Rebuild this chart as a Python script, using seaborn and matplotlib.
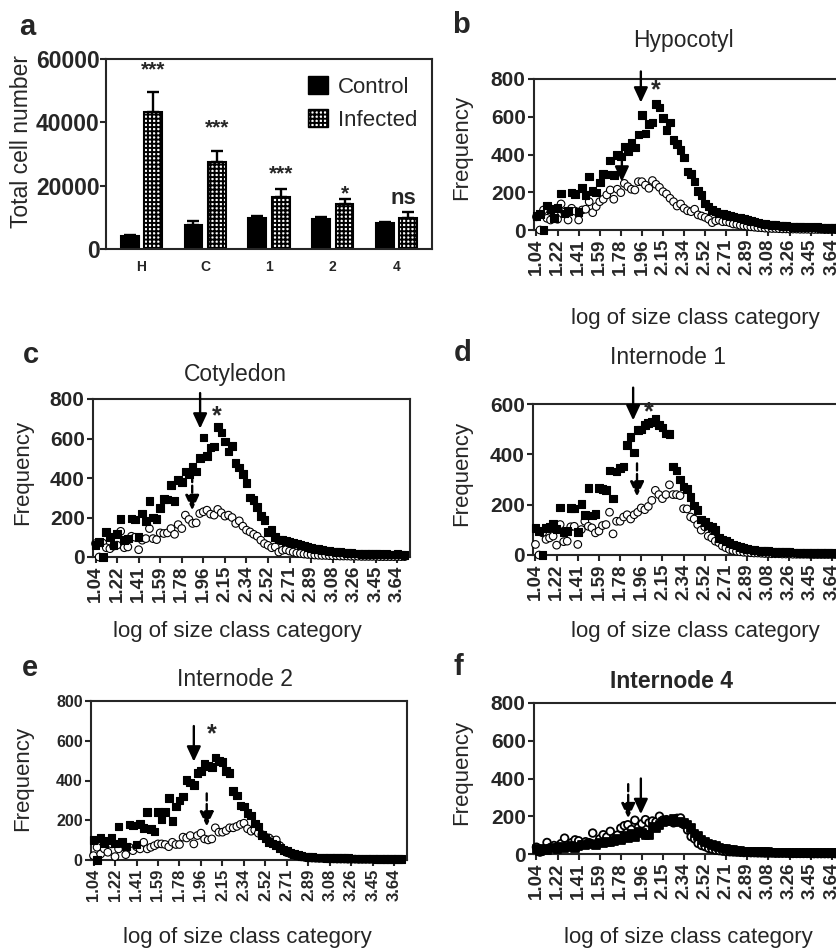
import numpy as np
import pandas as pd
import seaborn as sns
from matplotlib import pyplot as plt
from matplotlib.patches import Patch

W, H = 837, 950

# ---- panel a: total cell number ----
tissues = ["H", "C", "1", "2", "4"]
control_cells = [4200, 7600, 9800, 9600, 8100]
control_err = [300, 1100, 500, 600, 400]
infected_cells = [43200, 27600, 16400, 14200, 9800]
infected_err = [6300, 3300, 2500, 1700, 1900]
signif = ["***", "***", "***", "*", "ns"]
signif_y = [56500, 38400, 23700, 17400, 16100]

# ---- panels b-f: size class distributions ----
size_ticks = ["1.04", "1.22", "1.41", "1.59", "1.78", "1.96", "2.15", "2.34",
              "2.52", "2.71", "2.89", "3.08", "3.26", "3.45", "3.64"]

hyp_infected = [75, 85, 0, 130, 110, 62, 115, 194, 88, 100,
                198, 190, 95, 221, 185, 283, 208, 198, 251, 297,
                293, 368, 292, 396, 389, 442, 420, 463, 438, 507,
                610, 512, 562, 569, 668, 650, 592, 530, 569, 477,
                456, 424, 385, 309, 297, 256, 208, 185, 141, 124,
                106, 97, 88, 88, 80, 74, 72, 67, 62, 57,
                52, 48, 44, 39, 35, 32, 30, 27, 25, 24,
                22, 20, 18, 17, 16, 15, 15, 14, 17, 13,
                15, 12, 14, 11, 13, 12, 10]
hyp_control = [70, 0, 106, 62, 53, 85, 57, 138, 95, 53,
               115, 100, 53, 106, 110, 150, 92, 124, 150, 163,
               186, 212, 163, 216, 198, 247, 230, 216, 212, 256,
               256, 238, 221, 262, 242, 226, 203, 191, 168, 150,
               127, 138, 115, 102, 97, 110, 80, 74, 67, 57,
               39, 49, 53, 44, 44, 39, 32, 30, 25, 22,
               20, 17, 15, 13, 12, 10, 9, 8, 8, 7,
               6, 6, 5, 5, 5, 4, 4, 4, 3, 3,
               3, 3, 2, 2, 2, 2, 2]

cot_infected = [60, 76, 0, 127, 102, 59, 115, 192, 85, 93,
                195, 190, 102, 220, 183, 283, 200, 193, 249, 295,
                292, 364, 283, 390, 381, 432, 420, 458, 432, 500,
                605, 512, 554, 559, 658, 631, 585, 534, 563, 475,
                454, 420, 376, 302, 288, 254, 207, 186, 127, 136,
                102, 88, 85, 80, 76, 71, 68, 62, 59, 52,
                45, 42, 40, 36, 32, 30, 28, 26, 24, 22,
                20, 19, 18, 17, 16, 15, 15, 14, 18, 14,
                13, 15, 12, 13, 16, 12, 11]
cot_control = [68, 0, 71, 47, 42, 55, 60, 130, 47, 51,
               105, 100, 37, 85, 93, 144, 93, 88, 122, 119,
               122, 144, 115, 164, 144, 212, 190, 170, 173, 220,
               229, 237, 217, 212, 241, 224, 207, 212, 200, 170,
               183, 156, 136, 127, 115, 105, 85, 68, 59, 47,
               51, 25, 34, 37, 30, 25, 20, 18, 15, 13,
               12, 10, 9, 8, 8, 7, 6, 6, 5, 5,
               5, 4, 4, 4, 3, 3, 3, 3, 3, 2,
               2, 2, 2, 2, 2, 2, 2]

int1_infected = [108, 95, 0, 108, 112, 125, 104, 189, 91, 95,
                 187, 184, 91, 203, 160, 266, 157, 164, 266, 263,
                 259, 336, 224, 332, 345, 351, 437, 470, 408, 496,
                 499, 516, 525, 529, 542, 516, 507, 483, 480, 351,
                 336, 300, 272, 262, 230, 196, 180, 141, 130, 117,
                 112, 99, 68, 62, 55, 48, 42, 38, 32, 28,
                 25, 22, 20, 18, 17, 16, 15, 14, 13, 12,
                 12, 11, 11, 10, 10, 9, 9, 8, 10, 8,
                 9, 7, 8, 7, 8, 6, 7]
int1_control = [42, 0, 88, 62, 68, 75, 39, 121, 53, 55,
                112, 114, 42, 101, 134, 114, 108, 88, 95, 117,
                121, 170, 84, 134, 134, 151, 160, 143, 160, 170,
                187, 180, 193, 217, 257, 240, 224, 240, 279, 240,
                240, 236, 184, 183, 151, 143, 121, 99, 112, 75,
                68, 55, 49, 36, 29, 22, 18, 15, 13, 11,
                10, 9, 8, 8, 7, 6, 6, 5, 5, 5,
                4, 4, 4, 3, 3, 3, 3, 3, 2, 2,
                2, 2, 2, 2, 2, 2, 2]

int2_infected = [101, 0, 111, 84, 98, 111, 84, 169, 90, 67,
                 179, 174, 78, 182, 162, 241, 157, 143, 241, 207,
                 241, 313, 195, 270, 300, 320, 404, 389, 376, 438,
                 448, 482, 473, 468, 516, 499, 494, 448, 438, 347,
                 325, 275, 270, 235, 224, 184, 168, 126, 110, 92,
                 84, 75, 59, 50, 45, 37, 30, 25, 20, 17,
                 15, 14, 13, 12, 12, 11, 11, 10, 10, 9,
                 9, 9, 8, 8, 8, 7, 7, 7, 7, 6,
                 6, 6, 6, 5, 5, 5, 5]
int2_control = [22, 64, 30, 56, 39, 81, 17, 56, 81, 27,
                64, 47, 67, 56, 89, 56, 64, 72, 81, 81,
                78, 67, 89, 78, 78, 115, 111, 123, 81, 123,
                135, 106, 101, 106, 162, 140, 140, 148, 162, 162,
                169, 179, 185, 157, 145, 151, 135, 128, 115, 111,
                98, 101, 72, 50, 37, 30, 24, 20, 16, 13,
                11, 10, 9, 8, 8, 7, 6, 6, 5, 5,
                5, 4, 4, 4, 3, 3, 3, 3, 3, 2,
                2, 2, 2, 2, 2, 2, 2]

int4_infected = [25, 15, 30, 20, 30, 35, 25, 40, 30, 35,
                 45, 30, 40, 50, 45, 55, 50, 45, 60, 55,
                 65, 60, 70, 80, 75, 95, 85, 105, 90, 118,
                 110, 100, 100, 146, 137, 155, 168, 176, 173, 186,
                 166, 173, 164, 157, 137, 109, 95, 75, 65, 55,
                 48, 42, 35, 30, 25, 22, 20, 17, 15, 14,
                 13, 12, 11, 10, 10, 9, 9, 8, 8, 8,
                 7, 7, 7, 6, 6, 6, 6, 5, 5, 5,
                 5, 5, 4, 4, 4, 4, 4]
int4_control = [36, 10, 25, 61, 35, 45, 40, 55, 84, 40,
                60, 75, 70, 50, 65, 60, 111, 55, 80, 102,
                90, 120, 85, 100, 137, 150, 155, 130, 179, 140,
                160, 182, 165, 175, 170, 200, 180, 182, 175, 165,
                189, 191, 155, 127, 92, 80, 56, 45, 39, 30,
                25, 20, 18, 15, 13, 12, 11, 10, 9, 8,
                8, 7, 7, 6, 6, 5, 5, 5, 4, 4,
                4, 4, 3, 3, 3, 3, 3, 3, 2, 2,
                2, 2, 2, 2, 2, 2, 2]


def px_box(left, top, right, bottom):
    return [left / W, 1 - bottom / H, (right - left) / W, (bottom - top) / H]


def ftext(x, y, s, **kw):
    fig.text(x / W, 1 - y / H, s, ha="center", va="center", **kw)


sns.set_style("ticks")
plt.rcParams["font.family"] = ["Liberation Sans", "DejaVu Sans"]
plt.rcParams["axes.linewidth"] = 1.5
plt.rcParams["hatch.linewidth"] = 1.4

fig = plt.figure(figsize=(W / 100, H / 100), dpi=100)

# ---------------- panel a ----------------
ax = fig.add_axes(px_box(106, 59, 432, 249))
bars = pd.DataFrame({
    "tissue": tissues * 2,
    "cells": control_cells + infected_cells,
    "group": ["Control"] * 5 + ["Infected"] * 5,
})
sns.barplot(data=bars, x="tissue", y="cells", hue="group",
            palette={"Control": "black", "Infected": "white"},
            width=0.74, gap=0.25, edgecolor="black", linewidth=1.5,
            errorbar=None, legend=False, ax=ax)
patches = list(ax.patches)
for p in patches[5:]:
    p.set_hatch("++++")
xs = [p.get_x() + p.get_width() / 2 for p in patches]
errs = control_err + infected_err
tops = control_cells + infected_cells
ax.errorbar(xs, tops, yerr=[[0] * 10, errs], fmt="none", ecolor="black",
            elinewidth=1.7, capsize=4, capthick=1.7, zorder=1)
for i, s in enumerate(signif):
    big = s == "ns"
    ax.text(xs[5 + i] - (0.08 if big else 0), signif_y[i], s, ha="center", va="center",
            fontsize=16 if big else 15, fontweight="bold")
ax.set_ylim(0, 60000)
ax.set_yticks([0, 20000, 40000, 60000])
ax.set(xlabel="", ylabel="")
ax.tick_params(axis="y", labelsize=16.5, width=1.5, length=4, pad=0.5)
ax.tick_params(axis="x", labelsize=10, length=0, pad=8)
for lab in ax.get_xticklabels() + ax.get_yticklabels():
    lab.set_fontweight("bold")
handles = [Patch(facecolor="black", edgecolor="black", label="Control"),
           Patch(facecolor="white", edgecolor="black", hatch="++++", label="Infected")]
ax.legend(handles=handles, loc="upper left", bbox_to_anchor=(0.585, 0.97),
          frameon=False, fontsize=16, handlelength=0.9, handleheight=0.9,
          handletextpad=0.45, labelspacing=0.5, borderpad=0)
ftext(22, 141, "Total cell number", fontsize=16.5, rotation=90)
ftext(27, 27, "a", fontsize=21, fontweight="bold")

# ---------------- panels b-f ----------------
panels = [
    dict(box=(534, 79, 844, 230), ymax=800, inf=hyp_infected, ctl=hyp_control,
         title="Hypocotyl", tpos=(683, 40), tbold=False, letter="b", lpos=(461, 25),
         ypos=(462, 147), xpos=(695, 318), ticksize=13.5, ytsize=15,
         solid=(29.7, 840, 675), dashed=(24.3, 415, 256), dash_solid=True,
         star=(34, 740)),
    dict(box=(93, 399, 410, 557), ymax=800, inf=cot_infected, ctl=cot_control,
         title="Cotyledon", tpos=(235, 375), tbold=False, letter="c", lpos=(31, 355),
         ypos=(23, 472), xpos=(237, 632), ticksize=13.5, ytsize=15,
         solid=(29.1, 830, 650), dashed=(26.9, 415, 237), dash_solid=False,
         star=(33.7, 712)),
    dict(box=(533, 404, 844, 555), ymax=600, inf=int1_infected, ctl=int1_control,
         title="Internode 1", tpos=(668, 358), tbold=False, letter="d", lpos=(463, 353),
         ypos=(462, 473), xpos=(695, 632), ticksize=13.5, ytsize=15,
         solid=(27.7, 665, 535), dashed=(28.8, 364, 232), dash_solid=False,
         star=(32, 568)),
    dict(box=(91, 701, 407, 860), ymax=800, inf=int2_infected, ctl=int2_control,
         title="Internode 2", tpos=(235, 680), tbold=False, letter="e", lpos=(30, 668),
         ypos=(23, 778), xpos=(247, 937), ticksize=12, ytsize=11.5,
         solid=(28, 674, 495), dashed=(31.6, 335, 168), dash_solid=False,
         star=(33, 634)),
    dict(box=(534, 703, 844, 854), ymax=800, inf=int4_infected, ctl=int4_control,
         title="Internode 4", tpos=(672, 682), tbold=True, letter="f", lpos=(458, 667),
         ypos=(462, 772), xpos=(688, 938), ticksize=13.5, ytsize=15,
         solid=(29.7, 400, 211), dashed=(26.1, 370, 189), dash_solid=False,
         star=None),
]

for cfg in panels:
    ax = fig.add_axes(px_box(*cfg["box"]))
    n = len(cfg["inf"])
    pos = np.arange(n)
    # circles first so the filled squares sit on top, as in the original
    df = pd.DataFrame({
        "size_class": np.concatenate([pos, pos]),
        "frequency": cfg["ctl"] + cfg["inf"],
        "group": ["Control"] * n + ["Infected"] * n,
    })
    lw = 1.3 if cfg["letter"] == "f" else 0.8
    sns.scatterplot(data=df, x="size_class", y="frequency", hue="group", style="group",
                    markers={"Infected": "s", "Control": "o"},
                    palette={"Infected": "black", "Control": "white"},
                    edgecolor="black", linewidth=lw, s=30, legend=False,
                    clip_on=False, zorder=3, ax=ax)
    ax.set_xlim(-0.7, 87.5)
    ax.set_ylim(0, cfg["ymax"])
    ax.set_yticks(np.arange(0, cfg["ymax"] + 1, 200))
    ax.set_xticks(np.arange(0, 6 * len(size_ticks), 6))
    ax.set_xticklabels(size_ticks, rotation=90)
    ax.set(xlabel="", ylabel="")
    ax.tick_params(axis="x", labelsize=cfg["ticksize"], width=1.5, length=4, pad=2)
    ax.tick_params(axis="y", labelsize=cfg["ytsize"], width=1.5, length=4, pad=2)
    for lab in ax.get_xticklabels() + ax.get_yticklabels():
        lab.set_fontweight("bold")
    for sp in ax.spines.values():
        sp.set_visible(True)

    head = "-|>,head_length=0.6,head_width=0.28"
    x, y0, y1 = cfg["solid"]
    ax.annotate("", xy=(x, y1), xytext=(x, y0), annotation_clip=False,
                arrowprops=dict(arrowstyle=head, color="black", lw=1.7,
                                shrinkA=0, shrinkB=0, mutation_scale=15))
    x, y0, y1 = cfg["dashed"]
    ax.annotate("", xy=(x, y1), xytext=(x, y0), annotation_clip=False,
                arrowprops=dict(arrowstyle=head, color="black", lw=1.7,
                                shrinkA=0, shrinkB=0, mutation_scale=15,
                                linestyle="-" if cfg["dash_solid"] else (0, (3, 1.5))))
    if cfg["star"]:
        ax.text(cfg["star"][0], cfg["star"][1], "*", ha="center", va="center",
                fontsize=18, fontweight="bold")

    ftext(*cfg["tpos"], cfg["title"], fontsize=16.5,
          fontweight="bold" if cfg["tbold"] else "normal")
    ftext(*cfg["lpos"], cfg["letter"], fontsize=21, fontweight="bold")
    ftext(*cfg["ypos"], "Frequency", fontsize=16, rotation=90)
    ftext(*cfg["xpos"], "log of size class category", fontsize=16)

fig.savefig("out.png", dpi=100)
plt.close(fig)
